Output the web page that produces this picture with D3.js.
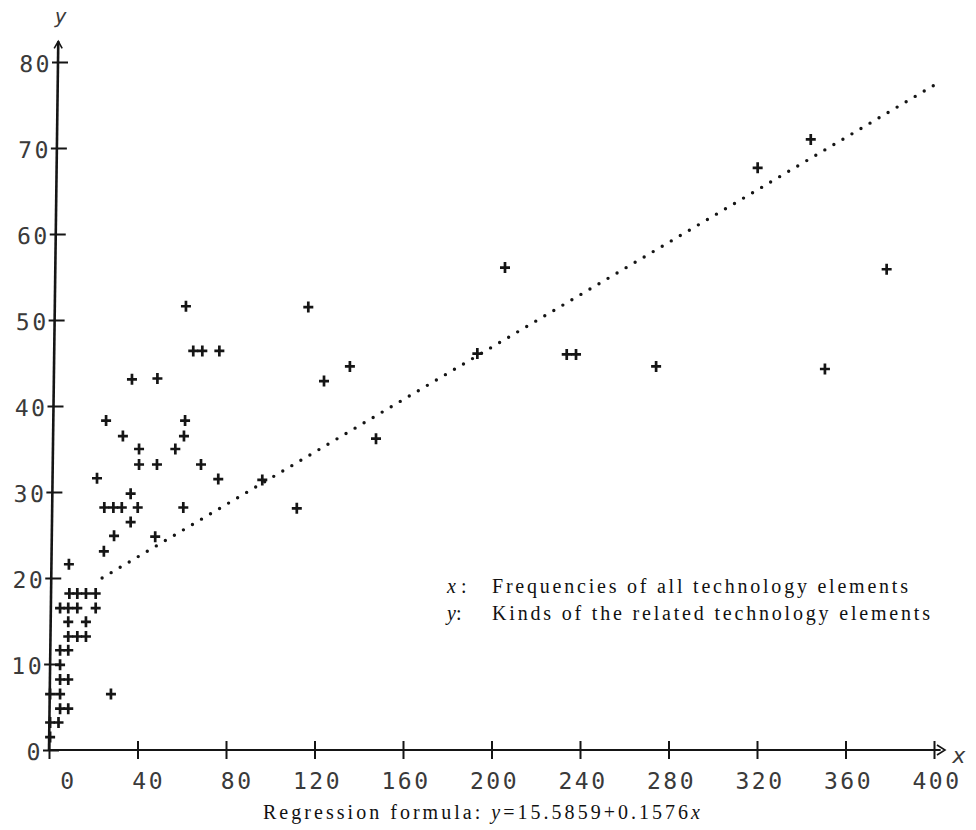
<!DOCTYPE html>
<html>
<head>
<meta charset="utf-8">
<script src="https://cdn.jsdelivr.net/npm/d3@7"></script>
<style>
  html, body { margin: 0; padding: 0; background: #fff; }
  svg { display: block; }
</style>
</head>
<body>
<svg id="chart" width="976" height="830"></svg>
<script>
// ---------- data ----------
const xTicks = [0, 40, 80, 120, 160, 200, 240, 280, 320, 360, 400];
const yTicks = [0, 10, 20, 30, 40, 50, 60, 70, 80];

// observed points ("+" markers)
const plusX = [
  0.5, 0.5, 4.3, 5, 8.7, 0.5, 5, 28, 5, 8.7, 5, 5, 8.7,
  8.7, 12.8, 16.7, 8.7, 16.7, 5, 8.7, 12.8, 21.1, 9.2, 12.8, 16.7, 21.1,
  9, 24.8, 29.4, 48, 36.9, 25, 29.1, 32.9, 40.1, 60.7, 36.9,
  21.7, 76.5, 96.4, 40.7, 48.8, 68.7, 40.7, 57.1, 33.4, 61, 25.8, 61.5,
  37.5, 49, 65.2, 69.3, 77, 61.9, 117.2, 136, 124.3, 147.8, 112,
  193.6, 206.1, 234, 238.2, 274.4, 320.3, 344.3, 378.6, 350.7
];
const plusY = [
  1.5, 3.2, 3.2, 4.8, 4.8, 6.5, 6.5, 6.5, 8.2, 8.2, 9.9, 11.6, 11.6,
  13.2, 13.2, 13.2, 14.9, 14.9, 16.5, 16.5, 16.5, 16.5, 18.2, 18.2, 18.2, 18.2,
  21.6, 23.1, 24.9, 24.8, 26.5, 28.2, 28.2, 28.2, 28.2, 28.2, 29.8,
  31.6, 31.5, 31.4, 33.2, 33.2, 33.2, 35.0, 35.0, 36.5, 36.5, 38.3, 38.3,
  43.1, 43.2, 46.4, 46.4, 46.4, 51.6, 51.5, 44.6, 42.9, 36.2, 28.1,
  46.1, 56.1, 46.0, 46.0, 44.6, 67.7, 71.0, 55.9, 44.3
];

// plotted regression line (dotted), end points
const regX = [24, 402];
const regY = [20.0, 77.6];

const legendLines = [
  { key: "x", text: "Frequencies of all technology elements" },
  { key: "y", text: "Kinds of the related technology elements" }
];
const formulaParts = [
  { t: "Regression formula: ", it: false },
  { t: "y", it: true },
  { t: "=15.5859+0.1576", it: false },
  { t: "x", it: true }
];

// ---------- drawing ----------
const svg = d3.select("#chart");
const x = d3.scaleLinear().domain([0, 400]).range([49, 934]);
const y = d3.scaleLinear().domain([0, 80]).range([750, 62]);

const ink = "#151515";
const monoFont = "'DejaVu Sans Mono', monospace";
const serif = "'Liberation Serif', 'DejaVu Serif', serif";

// X axis
const gx = svg.append("g").attr("transform", `translate(0,${y(0)})`);
gx.call(d3.axisBottom(x).tickValues(xTicks).tickSizeOuter(0).tickSizeInner(9).tickFormat(d => d));
gx.select(".domain").remove();
gx.selectAll(".tick line").attr("y1", -9).attr("y2", 9).attr("stroke", ink).attr("stroke-width", 2);
gx.selectAll(".tick text")
  .attr("font-family", monoFont).attr("font-size", 23).attr("fill", "#3a3a3a")
  .attr("letter-spacing", 2.5)
  .attr("text-anchor", "end").attr("x", 27).attr("y", 39).attr("dy", null);
gx.append("line")
  .attr("x1", x(0)).attr("x2", x(403)).attr("y1", 0).attr("y2", 0)
  .attr("stroke", ink).attr("stroke-width", 2);
// arrow head
gx.append("path")
  .attr("d", `M${x(400) + 3},-5L${x(400) + 11},0L${x(400) + 3},5`)
  .attr("fill", "none").attr("stroke", ink).attr("stroke-width", 1.6);
gx.append("text")
  .attr("x", x(400) + 25).attr("y", 13)
  .attr("font-family", monoFont).attr("font-size", 22).attr("font-style", "italic")
  .attr("fill", "#3a3a3a").text("x");

// Y axis (slightly sheared like the original print)
const gyOuter = svg.append("g")
  .attr("transform", `translate(0,${y(0)}) skewX(-0.75) translate(0,${-y(0)})`);
const gy = gyOuter.append("g").attr("transform", `translate(${x(0)},0)`);
gy.call(d3.axisLeft(y).tickValues(yTicks).tickSizeOuter(0).tickSizeInner(6).tickFormat(d => d));
gy.select(".domain").remove();
gy.selectAll(".tick line").attr("x1", -6).attr("x2", 10).attr("stroke", ink).attr("stroke-width", 2);
gy.selectAll(".tick text")
  .attr("font-family", monoFont).attr("font-size", 23).attr("fill", "#3a3a3a")
  .attr("letter-spacing", 2.5)
  .attr("text-anchor", "end").attr("x", -6).attr("dy", "0.40em");
gy.append("line")
  .attr("x1", 0).attr("x2", 0).attr("y1", y(0)).attr("y2", y(82.4))
  .attr("stroke", ink).attr("stroke-width", 2.6);
gy.append("path")
  .attr("d", `M-4,${y(82.4) + 7}L0,${y(82.4)}L4,${y(82.4) + 7}`)
  .attr("fill", "none").attr("stroke", ink).attr("stroke-width", 1.6);
gy.append("text")
  .attr("x", 2).attr("y", y(82.4) - 18)
  .attr("font-family", monoFont).attr("font-size", 20).attr("font-style", "italic")
  .attr("fill", "#3a3a3a").attr("text-anchor", "middle").text("y");

// regression line, dotted
svg.append("path")
  .datum(regX.map((v, i) => [v, regY[i]]))
  .attr("d", d3.line().x(d => x(d[0])).y(d => y(d[1])))
  .attr("fill", "none").attr("stroke", ink)
  .attr("stroke-width", 3.4).attr("stroke-linecap", "round")
  .attr("stroke-dasharray", "0 10.5");

// "+" markers
svg.append("g").selectAll("path")
  .data(plusX.map((v, i) => [v, plusY[i]]))
  .join("path")
  .attr("transform", d => `translate(${x(d[0])},${y(d[1])})`)
  .attr("d", "M-5,0H5M0,-5.5V5.5")
  .attr("stroke", ink).attr("stroke-width", 2.7).attr("fill", "none");

// legend
const lg = svg.append("g").attr("font-family", serif).attr("font-size", 20).attr("fill", "#111");
legendLines.forEach((l, i) => {
  const by = 593 + i * 27;
  const t = lg.append("text").attr("x", 447).attr("y", by);
  t.append("tspan").attr("font-style", "italic").text(l.key);
  t.append("tspan").text(l.key === "x" ? " :" : ":");
  lg.append("text").attr("x", 492).attr("y", by)
    .attr("textLength", i === 0 ? 416 : 438).attr("lengthAdjust", "spacing")
    .text(l.text);
});

// formula
const ft = svg.append("text").attr("x", 263).attr("y", 819)
  .attr("font-family", serif).attr("font-size", 20).attr("fill", "#111")
  .attr("textLength", 437).attr("lengthAdjust", "spacing");
formulaParts.forEach(p => {
  ft.append("tspan").attr("font-style", p.it ? "italic" : "normal").text(p.t);
});
</script>
</body>
</html>
